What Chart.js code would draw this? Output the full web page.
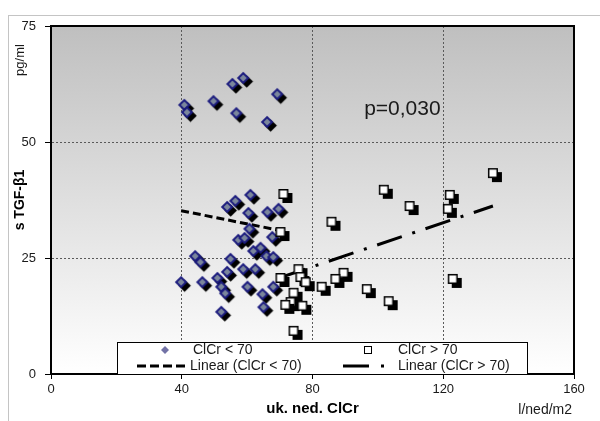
<!DOCTYPE html>
<html><head><meta charset="utf-8">
<script src="https://cdn.jsdelivr.net/npm/chart.js@4/dist/chart.umd.min.js"></script>
<style>
html,body{margin:0;padding:0;background:#fff;}
#wrap{position:relative;width:600px;height:421px;overflow:hidden;background:#fff;}
#frame{position:absolute;left:8px;top:15px;width:700px;height:500px;border:1px solid #c4c4c4;}
#c{position:absolute;left:0;top:0;}
</style></head><body>
<div id="wrap"><div id="frame"></div><canvas id="c" width="600" height="421"></canvas></div>
<script>
// ---- data ----
const seriesNames = ['ClCr < 70', 'ClCr > 70', 'Linear (ClCr < 70)', 'Linear (ClCr > 70)'];
const lowX = [40.8,41.6,49.7,55.5,58.8,56.7,69.2,66.1,
  53.9,56.4,61.0,60.4,66.2,69.6,60.7,57.3,59.2,67.7,61.9,64.1,65.9,68.0,
  44.1,45.7,54.9,53.9,58.8,62.5,39.8,46.3,50.9,52.1,53.3,60.1,64.7,68.0,65.0,52.1];
const lowY = [58.0,56.4,58.8,62.5,63.8,56.2,60.3,54.3,
  36.0,37.3,38.6,34.7,34.9,35.6,31.3,28.9,29.3,29.5,26.5,27.2,25.4,25.2,
  25.4,24.1,24.8,22.0,22.6,22.6,19.8,19.8,20.7,18.8,17.4,18.8,17.2,18.8,14.4,13.4];
const highX = [71.1,101.8,109.7,122.0,121.4,135.2,70.2,85.8,75.7,70.2,76.3,77.9,
  89.5,87.0,82.8,96.6,103.3,122.9,74.2,73.3,71.7,76.9,74.2];
const highY = [38.8,39.7,36.2,38.6,35.6,43.3,30.6,32.8,22.6,20.7,20.9,19.8,
  21.8,20.5,18.8,18.3,15.7,20.5,17.5,15.5,14.9,14.7,9.3];
const trendLowX = [39.8, 69.6];
const trendLowY = [35.2, 31.0];
const trendHighX = [70.2, 135.2];
const trendHighY = [20.8, 36.2];
const xTicks = [0, 40, 80, 120, 160];
const yTicks = [0, 25, 50, 75];
const pText = 'p=0,030';
const xTitle = 'uk. ned. ClCr';
const xUnit = 'l/ned/m2';
const yTitle = 's TGF-\u03B21';
const yUnit = 'pg/ml';

const FONT = '"Liberation Sans", Arial, sans-serif';
const zip = (xs, ys) => xs.map((x, i) => ({x, y: ys[i]}));

// ---- marker images ----
function makeDiamond() {
  const c = document.createElement('canvas'); c.width = 26; c.height = 26;
  const g = c.getContext('2d');
  const d = (cx, cy, r, fill) => { g.beginPath(); g.moveTo(cx, cy - r); g.lineTo(cx + r, cy); g.lineTo(cx, cy + r); g.lineTo(cx - r, cy); g.closePath(); g.fillStyle = fill; g.fill(); };
  d(16.5, 16.5, 6.3, '#000');
  d(13, 13, 6.3, '#1b1b7e');
  d(13, 13, 3.5, '#7b879c');
  return c;
}
function makeSquare() {
  const c = document.createElement('canvas'); c.width = 26; c.height = 26;
  const g = c.getContext('2d');
  g.fillStyle = '#000'; g.fillRect(12, 12, 10, 10);
  g.fillStyle = '#000'; g.fillRect(8, 8, 10, 10);
  g.fillStyle = '#fff'; g.fillRect(9.5, 9.5, 7, 7);
  return c;
}
const diamondImg = makeDiamond();
const squareImg = makeSquare();

// ---- plugin for background, frame, legend, extra text ----
const deco = {
  id: 'deco',
  beforeDraw(chart) {
    const {ctx, chartArea: a} = chart;
    ctx.save();
    const gr = ctx.createLinearGradient(0, a.top, 0, a.bottom);
    gr.addColorStop(0, '#bfbfbf');
    gr.addColorStop(1, '#ffffff');
    ctx.fillStyle = gr;
    ctx.fillRect(a.left, a.top, a.right - a.left, a.bottom - a.top);
    ctx.restore();
  },
  afterDatasetsDraw(chart) {
    const {ctx, chartArea: a} = chart;
    ctx.save();
    // frame top/right
    ctx.strokeStyle = '#000'; ctx.lineWidth = 2;
    ctx.beginPath(); ctx.moveTo(a.left, a.top); ctx.lineTo(a.right, a.top); ctx.lineTo(a.right, a.bottom); ctx.stroke();
    // legend box
    const L = a.left + 66, R = a.left + 477, T = a.bottom - 32, B = a.bottom;
    ctx.fillStyle = '#fff'; ctx.fillRect(L, T, R - L, B - T);
    ctx.strokeStyle = '#000'; ctx.lineWidth = 1;
    ctx.strokeRect(L + 0.5, T + 0.5, R - L - 1, B - T);
    const r1 = T + 8, r2 = T + 24;
    ctx.font = '14px ' + FONT; ctx.fillStyle = '#1a1a1a'; ctx.textBaseline = 'middle'; ctx.textAlign = 'left';
    // entry 1 diamond
    ctx.beginPath(); const dx = L + 48, dr = 4;
    ctx.moveTo(dx, r1 - dr); ctx.lineTo(dx + dr, r1); ctx.lineTo(dx, r1 + dr); ctx.lineTo(dx - dr, r1); ctx.closePath();
    ctx.fillStyle = '#7272a6'; ctx.fill();
    ctx.fillStyle = '#1a1a1a';
    ctx.fillText(seriesNames[0], L + 76, r1);
    // entry 2 square
    ctx.fillStyle = '#fff'; ctx.fillRect(L + 247, r1 - 4, 8, 8);
    ctx.strokeStyle = '#000'; ctx.lineWidth = 1; ctx.strokeRect(L + 247.5, r1 - 3.5, 7, 7);
    ctx.fillStyle = '#1a1a1a';
    ctx.fillText(seriesNames[1], L + 281, r1);
    // entry 3 dashed
    ctx.lineWidth = 3; ctx.setLineDash([9, 4]);
    ctx.beginPath(); ctx.moveTo(L + 20, r2); ctx.lineTo(L + 72, r2); ctx.stroke();
    ctx.fillText(seriesNames[2], L + 73, r2);
    // entry 4 dash-dot
    ctx.setLineDash([26, 12, 3, 20]);
    ctx.beginPath(); ctx.moveTo(L + 226, r2); ctx.lineTo(L + 270, r2); ctx.stroke();
    ctx.setLineDash([]);
    ctx.fillText(seriesNames[3], L + 281, r2);
    ctx.restore();
  },
  afterDraw(chart) {
    const {ctx, chartArea: a, scales} = chart;
    ctx.save();
    ctx.fillStyle = '#1a1a1a';
    ctx.font = '21px ' + FONT; ctx.textAlign = 'left'; ctx.textBaseline = 'middle';
    ctx.fillText(pText, scales.x.getPixelForValue(95.8), scales.y.getPixelForValue(57));
    ctx.font = '14px ' + FONT; ctx.textAlign = 'right';
    ctx.fillText(xUnit, a.right - 2, 410);
    ctx.translate(20, 60); ctx.rotate(-Math.PI / 2);
    ctx.font = '13px ' + FONT; ctx.textAlign = 'center';
    ctx.fillText(yUnit, 0, 0);
    ctx.restore();
  }
};

const gridColor = (ends) => (c) => (ends.includes(c.tick && c.tick.value) ? 'rgba(0,0,0,0)' : '#5a5a5a');

new Chart(document.getElementById('c'), {
  type: 'scatter',
  data: {
    datasets: [
      {label: seriesNames[0], data: zip(lowX, lowY), pointStyle: diamondImg, pointRadius: 6, order: 2},
      {label: seriesNames[1], data: zip(highX, highY), pointStyle: squareImg, pointRadius: 6, order: 1},
      {label: seriesNames[2], data: zip(trendLowX, trendLowY), showLine: true, pointRadius: 0,
        borderColor: '#000', borderWidth: 3, borderDash: [8, 4], borderCapStyle: 'butt', order: 4},
      {label: seriesNames[3], data: zip(trendHighX, trendHighY), showLine: true, pointRadius: 0,
        borderColor: '#000', borderWidth: 3, borderDash: [26, 11, 3, 11], borderCapStyle: 'butt', order: 3}
    ]
  },
  options: {
    responsive: false,
    animation: false,
    devicePixelRatio: 1,
    layout: {padding: {left: 0, right: 26, top: 26, bottom: 0}},
    plugins: {legend: {display: false}, tooltip: {enabled: false}},
    scales: {
      x: {
        type: 'linear', min: xTicks[0], max: xTicks[xTicks.length - 1],
        afterBuildTicks(s) { s.ticks = xTicks.map(v => ({value: v})); },
        afterFit(s) { s.height = 47; },
        ticks: {font: {family: FONT, size: 13}, color: '#1a1a1a', padding: 3, maxRotation: 0},
        grid: {color: gridColor([0, 160]), lineWidth: 1, tickColor: '#000', tickLength: 5, tickWidth: 1},
        border: {color: '#000', width: 2, dash: [2, 2]},
        title: {display: true, text: xTitle, font: {family: FONT, size: 15, weight: 'bold'}, color: '#000', padding: {top: 0, bottom: 3}}
      },
      y: {
        type: 'linear', min: yTicks[0], max: yTicks[yTicks.length - 1],
        afterBuildTicks(s) { s.ticks = yTicks.map(v => ({value: v})); },
        afterFit(s) { s.width = 51; },
        ticks: {font: {family: FONT, size: 13}, color: '#1a1a1a', padding: 9},
        grid: {color: gridColor([0, 75]), lineWidth: 1, tickColor: '#000', tickLength: 6, tickWidth: 1},
        border: {color: '#000', width: 2, dash: [2, 2]},
        title: {display: true, text: yTitle, font: {family: FONT, size: 14, weight: 'bold'}, color: '#000', padding: {top: 12, bottom: 0}}
      }
    }
  },
  plugins: [deco]
});
</script>
</body></html>
